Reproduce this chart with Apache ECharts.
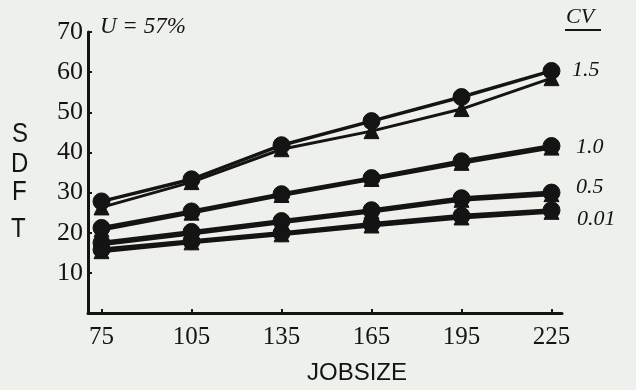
<!DOCTYPE html>
<html>
<head>
<meta charset="utf-8">
<script src="https://cdn.jsdelivr.net/npm/echarts@6/dist/echarts.min.js"></script>
<style>
  html, body { margin: 0; padding: 0; background: #eef0ec; }
  #chart { width: 636px; height: 390px; }
</style>
</head>
<body>
<div id="chart"></div>
<script>
// Job sizes on the horizontal axis
const jobSizes = [75, 105, 135, 165, 195, 225];
const yTicks = [10, 20, 30, 40, 50, 60, 70];

// SDFT per coefficient of variation; two runs per CV (circle / triangle markers)
const cv15a = [27.8, 33.3, 41.8, 47.8, 53.8, 60.3];
const cv15b = [26.3, 32.6, 40.8, 45.3, 50.8, 58.5];
const cv10a = [21.2, 25.3, 29.6, 33.6, 37.8, 41.6];
const cv10b = [20.8, 25.0, 29.4, 33.4, 37.4, 41.2];
const cv05a = [17.5, 20.2, 22.9, 25.6, 28.6, 30.0];
const cv05b = [17.1, 19.8, 22.6, 25.3, 28.2, 29.6];
const cv001a = [15.8, 17.9, 19.9, 22.2, 24.2, 25.6];
const cv001b = [15.4, 17.6, 19.6, 21.8, 23.8, 25.2];

const cvLabels = ['1.5', '1.0', '0.5', '0.01'];

const ink = '#141414';
const serif = '"Liberation Serif", "DejaVu Serif", serif';
const sans = '"Liberation Sans", Arial, sans-serif';

function pairs(vals) {
  return jobSizes.map((x, i) => [x, vals[i]]);
}

function line(name, vals, symbol, width, size) {
  return {
    name: name,
    type: 'line',
    data: pairs(vals),
    symbol: symbol,
    symbolSize: size,
    lineStyle: { color: ink, width: width },
    itemStyle: { color: ink, borderColor: ink, borderWidth: 1 },
    emphasis: { disabled: true },
    animation: false,
    z: symbol === 'circle' ? 3 : 2
  };
}

// Tall stacked letters for the vertical axis title
function letter(ch, left, top) {
  return {
    type: 'text', x: left, y: top, scaleY: 1.15,
    style: { text: ch, fill: ink, font: '24px ' + sans }
  };
}

const chart = echarts.init(document.getElementById('chart'), null, { renderer: 'canvas' });

chart.setOption({
  backgroundColor: '#eef0ec',
  grid: { left: 88, right: 74, top: 32, bottom: 75 },
  xAxis: {
    type: 'value',
    min: 70.5,
    max: 228.5,
    axisLine: { show: true, lineStyle: { color: ink, width: 3 } },
    axisTick: { show: true, inside: true, length: 4, customValues: jobSizes, lineStyle: { color: ink, width: 2 } },
    axisLabel: {
      customValues: jobSizes,
      color: ink, fontFamily: serif, fontSize: 25, margin: 12
    },
    splitLine: { show: false },
    name: 'JOBSIZE',
    nameLocation: 'middle',
    nameGap: 48,
    nameTextStyle: { color: ink, fontFamily: sans, fontSize: 24, padding: [0, 0, 0, 64] }
  },
  yAxis: {
    type: 'value',
    min: 0,
    max: 70,
    interval: 10,
    axisLine: { show: true, lineStyle: { color: ink, width: 3 } },
    axisTick: { show: true, inside: true, length: 4, lineStyle: { color: ink, width: 2 } },
    minorTick: { show: true, splitNumber: 2, length: 2, lineStyle: { color: ink, width: 1.5 } },
    axisLabel: {
      color: ink, fontFamily: serif, fontSize: 26, margin: 5,
      formatter: v => (yTicks.indexOf(v) >= 0 ? String(v) : '')
    },
    splitLine: { show: false }
  },
  graphic: [
    letter('S', 12, 121),
    letter('D', 11, 151),
    letter('F', 12, 179),
    letter('T', 11, 216),
    { type: 'text', left: 100, top: 15, style: { text: 'U = 57%', fill: ink, font: 'italic 23px ' + serif } },
    { type: 'text', left: 566, top: 6, style: { text: 'CV', fill: ink, font: 'italic 22px ' + serif } },
    { type: 'line', shape: { x1: 565, y1: 30, x2: 601, y2: 30 }, style: { stroke: ink, lineWidth: 2 } },
    { type: 'text', left: 572, top: 59, style: { text: cvLabels[0], fill: ink, font: 'italic 22px ' + serif } },
    { type: 'text', left: 576, top: 136, style: { text: cvLabels[1], fill: ink, font: 'italic 22px ' + serif } },
    { type: 'text', left: 576, top: 176, style: { text: cvLabels[2], fill: ink, font: 'italic 22px ' + serif } },
    { type: 'text', left: 577, top: 208, style: { text: cvLabels[3], fill: ink, font: 'italic 22px ' + serif } }
  ],
  series: [
    line('1.5 b', cv15b, 'triangle', 3, 15),
    line('1.5 a', cv15a, 'circle', 3.5, 17),
    line('1.0 b', cv10b, 'triangle', 4, 15),
    line('1.0 a', cv10a, 'circle', 4, 17),
    line('0.5 b', cv05b, 'triangle', 4, 15),
    line('0.5 a', cv05a, 'circle', 4, 17),
    line('0.01 b', cv001b, 'triangle', 4, 15),
    line('0.01 a', cv001a, 'circle', 4, 17)
  ]
});
</script>
</body>
</html>
